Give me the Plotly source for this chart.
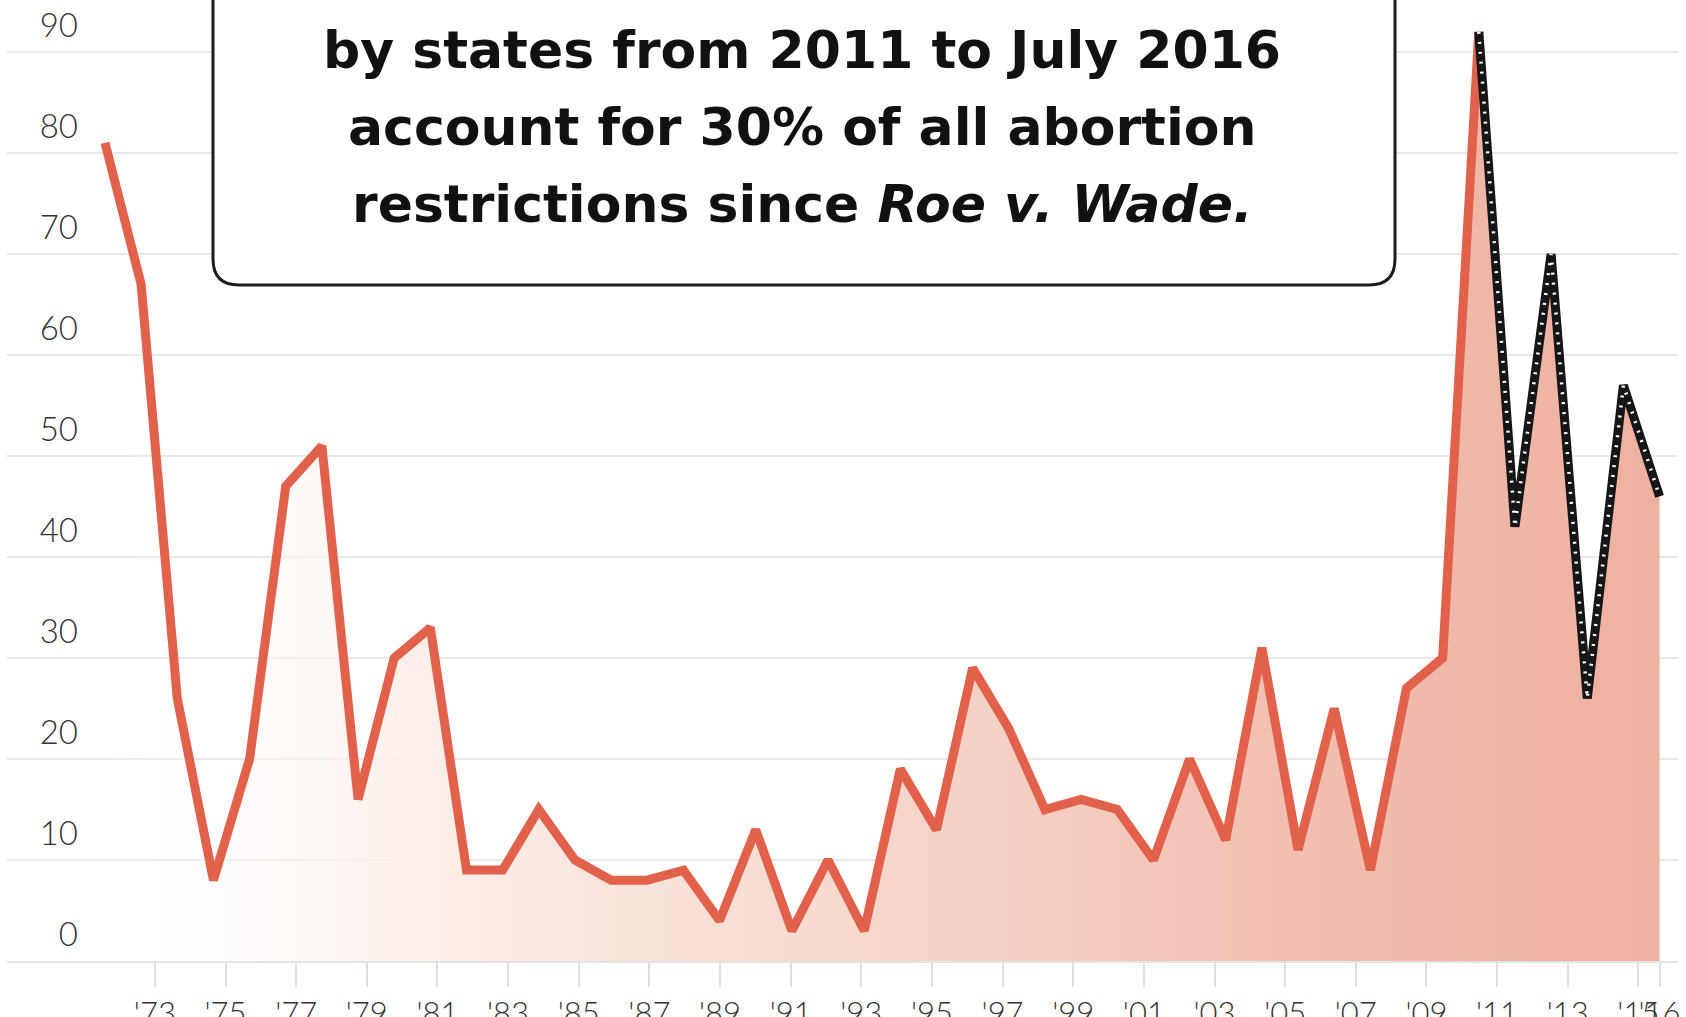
import plotly.graph_objects as go

# Abortion restrictions enacted by states, per year
years = list(range(1973, 2017))
restrictions = [81, 67, 26, 8, 20, 47, 51, 16, 30, 33,
                9, 9, 15, 10, 8, 8, 9, 4, 13, 3,
                10, 3, 19, 13, 29, 23, 15, 16, 15, 10,
                20, 12, 31, 11, 25, 9, 27, 30, 92, 43,
                70, 26, 57, 46]

# Recent period highlighted with the dotted black line
recent_start = 2011

y_ticks = [0, 10, 20, 30, 40, 50, 60, 70, 80, 90]
x_tick_labels = ["'73", "'75", "'77", "'79", "'81", "'83", "'85", "'87", "'89", "'91", "'93",
                 "'95", "'97", "'99", "'01", "'03", "'05", "'07", "'09", "'11", "'13", "'15", "'16"]

# Year labels run on their own spacing (slightly tighter than two data years)
TICK_FIRST = 1974.38
TICK_STEP = 1.954
x_tick_vals = [TICK_FIRST + i * TICK_STEP for i in range(len(x_tick_labels) - 1)] + [2016]

callout_lines = ["by states from 2011 to July 2016",
                 "account for 30% of all abortion",
                 "restrictions since <i>Roe v. Wade.</i>"]

W, H = 1686, 1017
ML, MR, MT, MB = 7, 8, 0, 56
PW, PH = W - ML - MR, H - MT - MB


def px_x(px):
    return (px - ML) / PW


def px_y(py):
    return (H - MB - py) / PH


split = years.index(recent_start)

fig = go.Figure()

# Shaded area under the whole series, fading in from the left
fig.add_trace(go.Scatter(
    x=years, y=restrictions, mode="lines", line=dict(width=0, color="rgba(0,0,0,0)"),
    fill="tozeroy",
    fillgradient=dict(type="horizontal",
                      colorscale=[[0.0, "rgba(255,255,255,0)"],
                                  [0.2, "#fcefe9"],
                                  [0.5, "#f6d6cb"],
                                  [0.8, "#f1bcae"],
                                  [1.0, "#eeb0a1"]]),
    hoverinfo="skip", showlegend=False))

# Main red line up to the 2011 peak
fig.add_trace(go.Scatter(
    x=years[:split + 1], y=restrictions[:split + 1], mode="lines",
    line=dict(color="#e2614b", width=9), showlegend=False))

# 2011 onwards: thick black line with white dots
fig.add_trace(go.Scatter(
    x=years[split:], y=restrictions[split:], mode="lines",
    line=dict(color="#161616", width=9), showlegend=False))
fig.add_trace(go.Scatter(
    x=years[split:], y=restrictions[split:], mode="lines",
    line=dict(color="white", width=3.5, dash="2px,8px"), showlegend=False))

# Rounded callout box running off the top edge
bx0, bx1, by_bottom, by_top, rad = 213, 1395, 285, -60, 26
box_path = (
    f"M {px_x(bx0)},{px_y(by_top)} "
    f"L {px_x(bx0)},{px_y(by_bottom - rad)} "
    f"Q {px_x(bx0)},{px_y(by_bottom)} {px_x(bx0 + rad)},{px_y(by_bottom)} "
    f"L {px_x(bx1 - rad)},{px_y(by_bottom)} "
    f"Q {px_x(bx1)},{px_y(by_bottom)} {px_x(bx1)},{px_y(by_bottom - rad)} "
    f"L {px_x(bx1)},{px_y(by_top)} Z"
)
fig.add_shape(type="path", path=box_path, xref="paper", yref="paper",
              fillcolor="white", line=dict(color="#1c1c1c", width=3), layer="above")

line_centers = [50, 127, 204]
for txt, cy in zip(callout_lines, line_centers):
    fig.add_annotation(
        text=txt, x=px_x(802), y=px_y(cy), xref="paper", yref="paper",
        xanchor="center", yanchor="middle", showarrow=False,
        font=dict(family="DejaVu Sans", size=52, weight="bold", color="#111111"))

fig.update_layout(
    width=W, height=H, autosize=False,
    margin=dict(l=ML, r=MR, t=MT, b=MB, pad=0, autoexpand=False),
    plot_bgcolor="white", paper_bgcolor="white",
    showlegend=False,
    xaxis=dict(
        range=[1970.29, 2016.51], showgrid=False, zeroline=False,
        showline=True, linecolor="#e4e4e4", linewidth=1.5,
        ticks="outside", ticklen=24, tickwidth=1.5, tickcolor="#dedede",
        tickmode="array", tickvals=x_tick_vals, ticktext=x_tick_labels,
        tickangle=0, automargin=False,
        tickfont=dict(family="Lato", size=31, weight=300, color="#333333"),
        fixedrange=True),
    yaxis=dict(
        range=[0, 95.15], anchor="free", position=px_x(78), side="left",
        showgrid=True, gridcolor="#e8e8e8", gridwidth=1.5, zeroline=False,
        showline=False, ticks="", tickmode="array", tickvals=y_ticks,
        ticklabelshift=-27, automargin=False,
        tickfont=dict(family="Lato", size=33, weight=300, color="#333333"),
        fixedrange=True),
)

fig.write_html("out.html")
